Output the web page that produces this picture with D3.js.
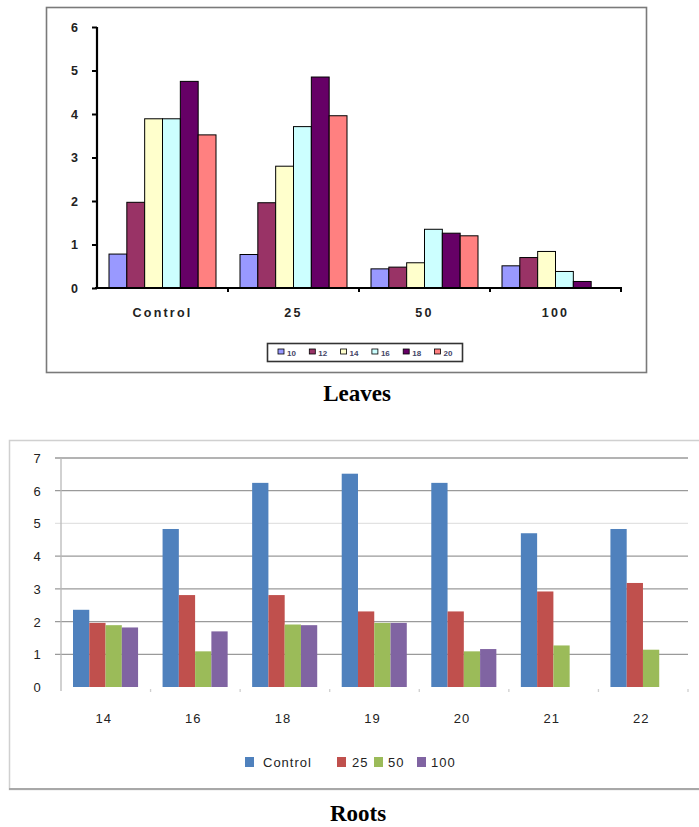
<!DOCTYPE html>
<html>
<head>
<meta charset="utf-8">
<script src="https://cdn.jsdelivr.net/npm/d3@7"></script>
<style>
  html, body { margin: 0; padding: 0; background: #fff; }
  svg { display: block; }
</style>
</head>
<body>
<svg id="fig" width="699" height="827"></svg>
<script>
// ---- Leaves: grouped bars by treatment, one bar per day ----
const leafGroups = ["Control", "25", "50", "100"];
const leafSeries = ["10", "12", "14", "16", "18", "20"];
const leaf10 = [0.78, 0.77, 0.44, 0.51];
const leaf12 = [1.97, 1.96, 0.48, 0.70];
const leaf14 = [3.89, 2.80, 0.58, 0.84];
const leaf16 = [3.89, 3.71, 1.35, 0.38];
const leaf18 = [4.75, 4.85, 1.26, 0.15];
const leaf20 = [3.52, 3.96, 1.20, 0];
const leafTicks = [0, 1, 2, 3, 4, 5, 6];
const leafColors = ["#9999ff", "#993366", "#ffffcc", "#ccffff", "#660066", "#ff8080"];

// ---- Roots: grouped bars by day, one bar per treatment ----
const rootDays = ["14", "16", "18", "19", "20", "21", "22"];
const rootSeries = ["Control", "25", "50", "100"];
const rootControl = [2.36, 4.83, 6.24, 6.52, 6.24, 4.70, 4.83];
const root25 = [1.96, 2.81, 2.81, 2.31, 2.31, 2.92, 3.18];
const root50 = [1.89, 1.09, 1.91, 1.96, 1.09, 1.27, 1.14];
const root100 = [1.82, 1.70, 1.89, 1.96, 1.16, null, null];
const rootTicks = [0, 1, 2, 3, 4, 5, 6, 7];
const rootColors = ["#4f81bd", "#c0504d", "#9bbb59", "#8064a2"];

const svg = d3.select("#fig");
const sans = "'Liberation Sans', Arial, sans-serif";
const serif = "'Liberation Serif', 'Times New Roman', serif";

// ================= Leaves panel =================
(function () {
  const g = svg.append("g");
  const values = [leaf10, leaf12, leaf14, leaf16, leaf18, leaf20];

  g.append("rect").attr("x", 46.5).attr("y", 7.5).attr("width", 600).attr("height", 365)
    .attr("fill", "#fff").attr("stroke", "#7a7a7a").attr("stroke-width", 1.6);

  const x0 = d3.scaleBand().domain(leafGroups).range([97, 621]);
  const x1 = d3.scaleBand().domain(leafSeries).range([12, x0.bandwidth() - 12]);
  const y = d3.scaleLinear().domain([0, 6]).range([288, 27]);

  const rows = [];
  leafSeries.forEach((s, si) => leafGroups.forEach((grp, gi) =>
    rows.push({ s, si, grp, v: values[si][gi] })));

  g.selectAll("rect.bar").data(rows.filter(d => d.v > 0)).join("rect")
    .attr("class", "bar")
    .attr("x", d => x0(d.grp) + x1(d.s))
    .attr("y", d => y(d.v))
    .attr("width", x1.bandwidth())
    .attr("height", d => y(0) - y(d.v))
    .attr("fill", d => leafColors[d.si])
    .attr("stroke", "#000").attr("stroke-width", 1);

  // y axis
  const ya = g.append("g").attr("transform", "translate(97,0)")
    .call(d3.axisLeft(y).tickValues(leafTicks).tickSize(5).tickPadding(14).tickFormat(d3.format("d")));
  ya.select(".domain").attr("stroke", "#000").attr("stroke-width", 2.2).attr("d", "M0,27V288");
  ya.selectAll(".tick line").attr("stroke", "#000").attr("stroke-width", 2);
  ya.selectAll(".tick text").attr("font-family", sans).attr("font-size", 12.5)
    .attr("font-weight", "bold").attr("fill", "#222");

  // x axis with category separators
  const xa = g.append("g").attr("transform", "translate(0,288)");
  xa.append("line").attr("x1", 95).attr("x2", 622).attr("stroke", "#000").attr("stroke-width", 2.2);
  const seps = leafGroups.map(d => x0(d) + x0.bandwidth());
  xa.selectAll("line.sep").data(seps).join("line").attr("class", "sep")
    .attr("x1", d => d).attr("x2", d => d).attr("y1", 0).attr("y2", 4)
    .attr("stroke", "#000").attr("stroke-width", 2);
  xa.selectAll("text").data(leafGroups).join("text")
    .attr("x", d => x0(d) + x0.bandwidth() / 2).attr("y", 29)
    .attr("text-anchor", "middle").attr("font-family", sans).attr("font-size", 12.5)
    .attr("font-weight", "bold").attr("fill", "#222").attr("letter-spacing", 2.2)
    .text(d => d);

  // legend
  const lg = g.append("g");
  lg.append("rect").attr("x", 267.5).attr("y", 343.5).attr("width", 195).attr("height", 18)
    .attr("fill", "#fff").attr("stroke", "#333").attr("stroke-width", 1.6);
  const item = lg.selectAll("g.item").data(leafSeries).join("g").attr("class", "item")
    .attr("transform", (d, i) => `translate(${278 + i * 31.3},352)`);
  item.append("rect").attr("x", 0).attr("y", -3).attr("width", 6).attr("height", 5)
    .attr("fill", (d, i) => leafColors[i]).attr("stroke", "#000").attr("stroke-width", 0.8);
  item.append("text").attr("x", 9).attr("y", 3.5).attr("font-family", sans)
    .attr("font-size", 8).attr("font-weight", "bold").attr("fill", "#446").text(d => d);

  svg.append("text").attr("x", 357).attr("y", 401).attr("text-anchor", "middle")
    .attr("font-family", serif).attr("font-weight", "bold").attr("font-size", 23)
    .text("Leaves");
})();

// ================= Roots panel =================
(function () {
  const g = svg.append("g");
  const values = [rootControl, root25, root50, root100];

  g.append("path").attr("d", "M702,440.5H9.5V789.5H702")
    .attr("fill", "#fff").attr("stroke", "#d0d0d0").attr("stroke-width", 1.5);
  g.append("line").attr("x1", 9).attr("x2", 702).attr("y1", 789).attr("y2", 789)
    .attr("stroke", "#a8a8a8").attr("stroke-width", 2);

  const x0 = d3.scaleBand().domain(rootDays).range([61, 688]);
  const x1 = d3.scaleBand().domain(rootSeries).range([12, x0.bandwidth() - 12.5]);
  const y = d3.scaleLinear().domain([0, 7]).range([687, 458]);

  // gridlines
  g.selectAll("line.grid").data(rootTicks.filter(t => t > 0)).join("line").attr("class", "grid")
    .attr("x1", 55).attr("x2", 688).attr("y1", d => y(d)).attr("y2", d => y(d))
    .attr("stroke", d => d === 5 ? "#e2e2e2" : "#9a9a9a").attr("stroke-width", 1.3);
  // y axis line and category stubs
  g.append("line").attr("x1", 61).attr("x2", 61).attr("y1", 458).attr("y2", 691)
    .attr("stroke", "#b8b8b8").attr("stroke-width", 1.3);
  g.selectAll("line.sep").data(rootDays.map(d => x0(d) + x0.bandwidth())).join("line")
    .attr("class", "sep").attr("x1", d => d).attr("x2", d => d).attr("y1", 689).attr("y2", 692)
    .attr("stroke", "#cfcfcf").attr("stroke-width", 1.3);

  const rows = [];
  rootSeries.forEach((s, si) => rootDays.forEach((day, di) =>
    rows.push({ s, si, day, v: values[si][di] })));
  g.selectAll("rect.bar").data(rows.filter(d => d.v != null)).join("rect")
    .attr("class", "bar")
    .attr("x", d => x0(d.day) + x1(d.s))
    .attr("y", d => y(d.v))
    .attr("width", x1.bandwidth())
    .attr("height", d => y(0) - y(d.v))
    .attr("fill", d => rootColors[d.si]);

  g.selectAll("text.ytick").data(rootTicks).join("text").attr("class", "ytick")
    .attr("x", 37).attr("y", d => y(d) + 5).attr("text-anchor", "middle")
    .attr("font-family", sans).attr("font-size", 13).attr("fill", "#222").text(d => d);
  g.selectAll("text.xtick").data(rootDays).join("text").attr("class", "xtick")
    .attr("x", d => x0(d) + x0.bandwidth() / 2 - 2).attr("y", 723).attr("text-anchor", "middle")
    .attr("font-family", sans).attr("font-size", 13).attr("letter-spacing", 1)
    .attr("fill", "#222").text(d => d);

  // legend
  const offs = [245, 337, 374, 417];
  const gaps = [18, 15, 14, 14];
  const item = g.selectAll("g.item").data(rootSeries).join("g").attr("class", "item")
    .attr("transform", (d, i) => `translate(${offs[i]},762)`);
  item.append("rect").attr("x", 0).attr("y", -5).attr("width", 9).attr("height", 10)
    .attr("fill", (d, i) => rootColors[i]);
  item.append("text").attr("x", (d, i) => gaps[i]).attr("y", 5).attr("font-family", sans)
    .attr("font-size", 13).attr("letter-spacing", 1).attr("fill", "#222").text(d => d);

  svg.append("text").attr("x", 358).attr("y", 821).attr("text-anchor", "middle")
    .attr("font-family", serif).attr("font-weight", "bold").attr("font-size", 23)
    .text("Roots");
})();
</script>
</body>
</html>
